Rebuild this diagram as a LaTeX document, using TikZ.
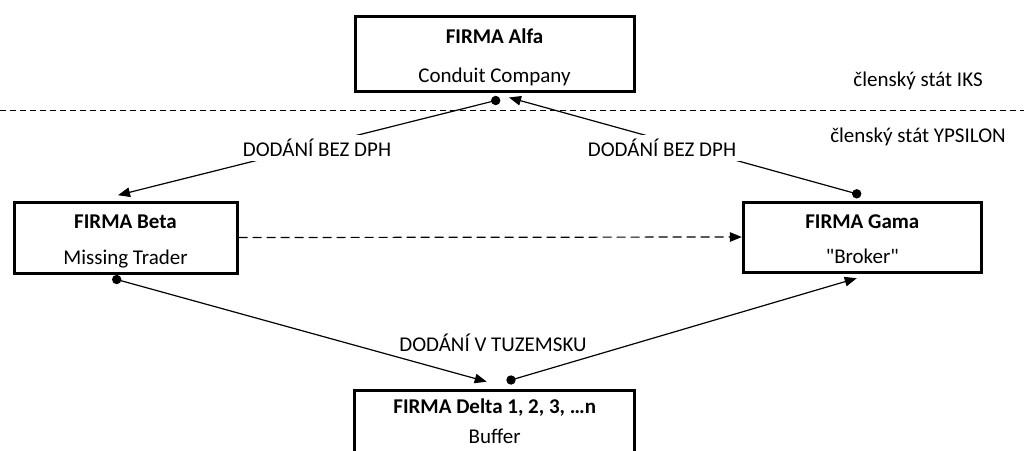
\documentclass[tikz,border=0pt]{standalone}
\usepackage{fontspec}
\setmainfont{Carlito}
\usetikzlibrary{arrows.meta}

% straight double quote, set as a glyph so no TeX ligature turns it curly
\newcommand\straightdq{\XeTeXglyph\XeTeXcharglyph"22\relax}

\tikzset{
  firm/.style={draw=black, line width=3pt, inner sep=0pt},
  firmname/.style={anchor=base, inner sep=0pt, font=\fontsize{21}{25}\selectfont\bfseries},
  firmrole/.style={anchor=base, inner sep=0pt, font=\fontsize{21}{25}\selectfont},
  flow/.style={line width=1.2pt, -{Triangle[length=12pt,width=9.5pt]}},
  plan/.style={line width=1.2pt, dash pattern=on 9pt off 5pt, -{Triangle[length=12pt,width=9.5pt]}},
  lbl/.style={font=\fontsize{21}{25}\selectfont, inner sep=0pt},
  tag/.style={lbl, fill=white, inner sep=4pt},
  border/.style={line width=0.9pt, dash pattern=on 6pt off 4pt},
  knob/.style={fill=black}
}

\begin{document}
\begin{tikzpicture}[x=1pt, y=-1pt]
  \useasboundingbox (0,0) rectangle (1024,450);
  \clip (0,0) rectangle (1024,450);

  % firms
  \node[firm, minimum width=279pt, minimum height=75pt] (alfa) at (494.5,53.5) {};
  \node[firm, minimum width=223pt, minimum height=71pt] (beta) at (125.5,237.5) {};
  \node[firm, minimum width=238pt, minimum height=70pt] (gama) at (862.3,237) {};
  \node[firm, minimum width=280pt, minimum height=72pt, anchor=north] (delta) at (494.7,388.7) {};

  \node[firmname] (alfaN) at ([yshift=-29pt]alfa.north) {FIRMA Alfa};
  \node[firmrole] (alfaR) at ([yshift=-68pt]alfa.north) {Conduit Company};
  \node[firmname] (betaN) at ([yshift=-28pt]beta.north) {FIRMA Beta};
  \node[firmrole] (betaR) at ([yshift=-64pt]beta.north) {Missing Trader};
  \node[firmname] (gamaN) at ([yshift=-28pt]gama.north) {FIRMA Gama};
  \node[firmrole] (gamaR) at ([yshift=-63pt]gama.north) {\straightdq Broker\straightdq};
  \node[firmname] (deltaN) at ([yshift=-25pt]delta.north) {FIRMA Delta 1, 2, 3, …n};
  \node[firmrole] (deltaR) at ([yshift=-54.5pt]delta.north) {Buffer};

  % border between the two member states
  \coordinate (bl) at (0,110);
  \coordinate (br) at (1024,110);
  \draw[border] (bl) -- (br);
  \node[lbl] (iks) at (918,81) {členský stát IKS};
  \node[lbl] (ypsilon) at (918,137) {členský stát YPSILON};

  % connector end points
  \coordinate (a1) at ([xshift=1.2pt,yshift=-8pt]alfa.south);
  \coordinate (a2) at ([xshift=14.5pt,yshift=-5pt]alfa.south);
  \coordinate (b1) at ([xshift=-7.5pt,yshift=5.3pt]beta.north);
  \coordinate (b2) at ([xshift=-8.8pt,yshift=-5pt]beta.south);
  \coordinate (g1) at ([xshift=-5.6pt,yshift=6.7pt]gama.north);
  \coordinate (g2) at ([xshift=-5.6pt,yshift=-4.7pt]gama.south);
  \coordinate (d1) at ([xshift=-8pt,yshift=7pt]delta.north);
  \coordinate (d2) at ([xshift=16.3pt,yshift=8.7pt]delta.north);

  % deliveries
  \draw[flow] (a1) -- (b1);
  \draw[flow] (g1) -- (a2);
  \draw[plan] (beta.east) -- (gama.west);
  \draw[flow] (b2) -- (d1);
  \draw[flow] (d2) -- (g2);
  \foreach \p in {a1,g1,b2,d2} \fill[knob] (\p) circle (4.7pt);

  \node[tag] (t1) at (317,148) {DODÁNÍ BEZ DPH};
  \node[tag] (t2) at (662,148) {DODÁNÍ BEZ DPH};
  \node[lbl] (t3) at (493,343) {DODÁNÍ V TUZEMSKU};
\end{tikzpicture}
\end{document}
